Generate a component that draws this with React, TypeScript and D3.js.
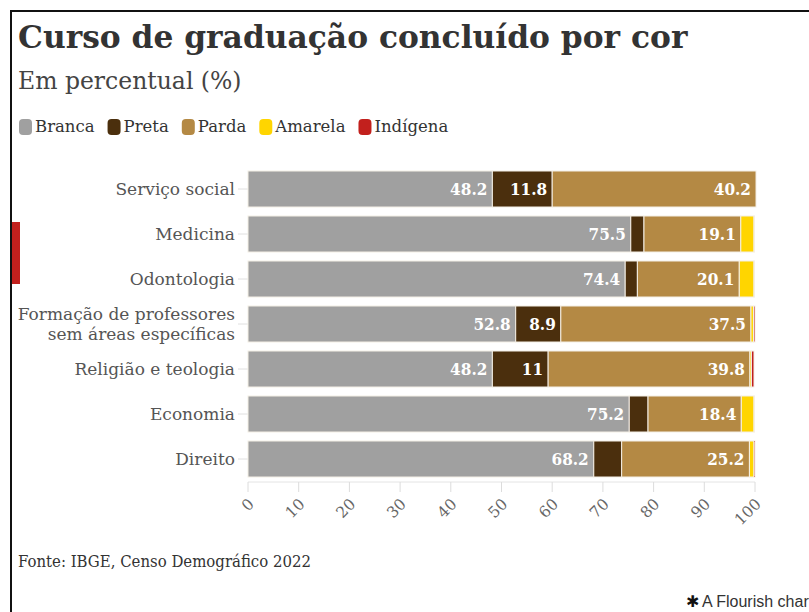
import React, { useEffect, useRef } from "react";
import * as d3 from "d3";

const categories = [
  "Serviço social",
  "Medicina",
  "Odontologia",
  "Formação de professores|sem áreas específicas",
  "Religião e teologia",
  "Economia",
  "Direito",
];
const seriesNames = ["Branca", "Preta", "Parda", "Amarela", "Indígena"];
const branca = [48.2, 75.5, 74.4, 52.8, 48.2, 75.2, 68.2];
const preta = [11.8, 2.6, 2.4, 8.9, 11, 3.7, 5.5];
const parda = [40.2, 19.1, 20.1, 37.5, 39.8, 18.4, 25.2];
const amarela = [0, 2.6, 2.9, 0.5, 0.3, 2.5, 0.9];
const indigena = [0, 0.1, 0.1, 0.3, 0.5, 0.1, 0.2];
const seriesColors = ["#a0a0a0", "#4b2f0d", "#b48944", "#ffd500", "#c2201d"];
const xTicks = [0, 10, 20, 30, 40, 50, 60, 70, 80, 90, 100];

const W = 809;
const H = 612;
const SERIF = "'DejaVu Serif', serif";

export default function App() {
  const ref = useRef<SVGSVGElement>(null);

  useEffect(() => {
    const svg = d3.select(ref.current);
    svg.selectAll("*").remove();

    // frame
    svg.append("line").attr("x1", 10).attr("x2", W).attr("y1", 11).attr("y2", 11)
      .attr("stroke", "#111").attr("stroke-width", 2);
    svg.append("line").attr("x1", 11).attr("x2", 11).attr("y1", 10).attr("y2", H)
      .attr("stroke", "#111").attr("stroke-width", 2);
    svg.append("rect").attr("x", 12).attr("y", 222).attr("width", 8).attr("height", 62)
      .attr("fill", "#c2201d");

    // title
    svg.append("text").attr("x", 18).attr("y", 48)
      .attr("font-family", SERIF).attr("font-weight", "bold").attr("font-size", 31.3)
      .attr("fill", "#333").text("Curso de graduação concluído por cor");
    svg.append("text").attr("x", 18).attr("y", 89)
      .attr("font-family", SERIF).attr("font-size", 23.5)
      .attr("fill", "#444").text("Em percentual (%)");

    // legend
    let lx = 19;
    seriesNames.forEach((name, i) => {
      svg.append("rect").attr("x", lx).attr("y", 119).attr("width", 13).attr("height", 16)
        .attr("rx", 4).attr("fill", seriesColors[i]);
      const t = svg.append("text").attr("x", lx + 16).attr("y", 132)
        .attr("font-family", SERIF).attr("font-size", 16.5).attr("fill", "#333").text(name);
      const w = (t.node() as SVGTextElement).getComputedTextLength();
      lx += 16 + w + 13;
    });

    const x = d3.scaleLinear().domain([0, 100]).range([248, 755]);
    const y = d3.scaleBand<string>().domain(categories).range([166.5, 481.5])
      .paddingInner(0.2).paddingOuter(0.1);

    const rows = categories.map((c, i) => ({
      cat: c,
      vals: [branca[i], preta[i], parda[i], amarela[i], indigena[i]],
    }));

    // axis line and ticks
    const axisY = 482;
    svg.append("line").attr("x1", x(0)).attr("x2", x(100)).attr("y1", axisY).attr("y2", axisY)
      .attr("stroke", "#e4e4e4").attr("stroke-width", 1);
    const tg = svg.append("g");
    xTicks.forEach((t) => {
      tg.append("line").attr("x1", x(t)).attr("x2", x(t)).attr("y1", axisY).attr("y2", 492)
        .attr("stroke", "#dcdcdc").attr("stroke-width", 1);
      tg.append("text")
        .attr("transform", `translate(${x(t) + 7},${505}) rotate(-45)`)
        .attr("text-anchor", "end")
        .attr("font-family", SERIF).attr("font-size", 15.5).attr("fill", "#666")
        .text(String(t));
    });

    // category labels and ticks
    rows.forEach((r) => {
      const cy = (y(r.cat) as number) + y.bandwidth() / 2;
      svg.append("line").attr("x1", 238).attr("x2", 248).attr("y1", cy).attr("y2", cy)
        .attr("stroke", "#e0e0e0");
      const lines = r.cat.split("|");
      lines.forEach((ln, k) => {
        const off = (k - (lines.length - 1) / 2) * 20;
        svg.append("text").attr("x", 235).attr("y", cy + off)
          .attr("dy", "0.35em").attr("text-anchor", "end")
          .attr("font-family", SERIF).attr("font-size", 17).attr("fill", "#555")
          .text(ln);
      });
    });

    // bars
    rows.forEach((r) => {
      const y0 = y(r.cat) as number;
      let acc = 0;
      r.vals.forEach((v, si) => {
        const xs = x(acc);
        const xe = x(acc + v);
        acc += v;
        if (v <= 0) return;
        svg.append("rect").attr("x", xs).attr("y", y0)
          .attr("width", Math.max(0, xe - xs)).attr("height", y.bandwidth())
          .attr("fill", seriesColors[si])
          .attr("stroke", "#f4efe6").attr("stroke-width", 1);
        if (si < 3) {
          const t = svg.append("text").attr("x", xe - 5).attr("y", y0 + y.bandwidth() / 2)
            .attr("dy", "0.36em").attr("text-anchor", "end")
            .attr("font-family", SERIF).attr("font-weight", "bold")
            .attr("font-stretch", "condensed")
            .attr("font-size", 17).attr("fill", "#fff")
            .text(String(v));
          const w = (t.node() as SVGTextElement).getComputedTextLength();
          if (w + 10 > xe - xs) t.remove();
        }
      });
    });

    // footer
    svg.append("text").attr("x", 18).attr("y", 567)
      .attr("font-family", SERIF).attr("font-size", 16.6).attr("font-stretch", "condensed")
      .attr("fill", "#333").text("Fonte: IBGE, Censo Demográfico 2022");
    svg.append("text").attr("x", 686).attr("y", 607)
      .attr("font-family", "'DejaVu Sans', sans-serif").attr("font-size", 16)
      .attr("font-weight", "bold").attr("fill", "#111").text("✱");
    svg.append("text").attr("x", 702).attr("y", 607)
      .attr("font-family", "'Liberation Sans', Arial, sans-serif").attr("font-size", 16)
      .attr("fill", "#333").text("A Flourish chart");
  }, []);

  return (
    <svg
      ref={ref}
      width={W}
      height={H}
      style={{ position: "absolute", left: 0, top: 0, background: "#fff" }}
    />
  );
}
